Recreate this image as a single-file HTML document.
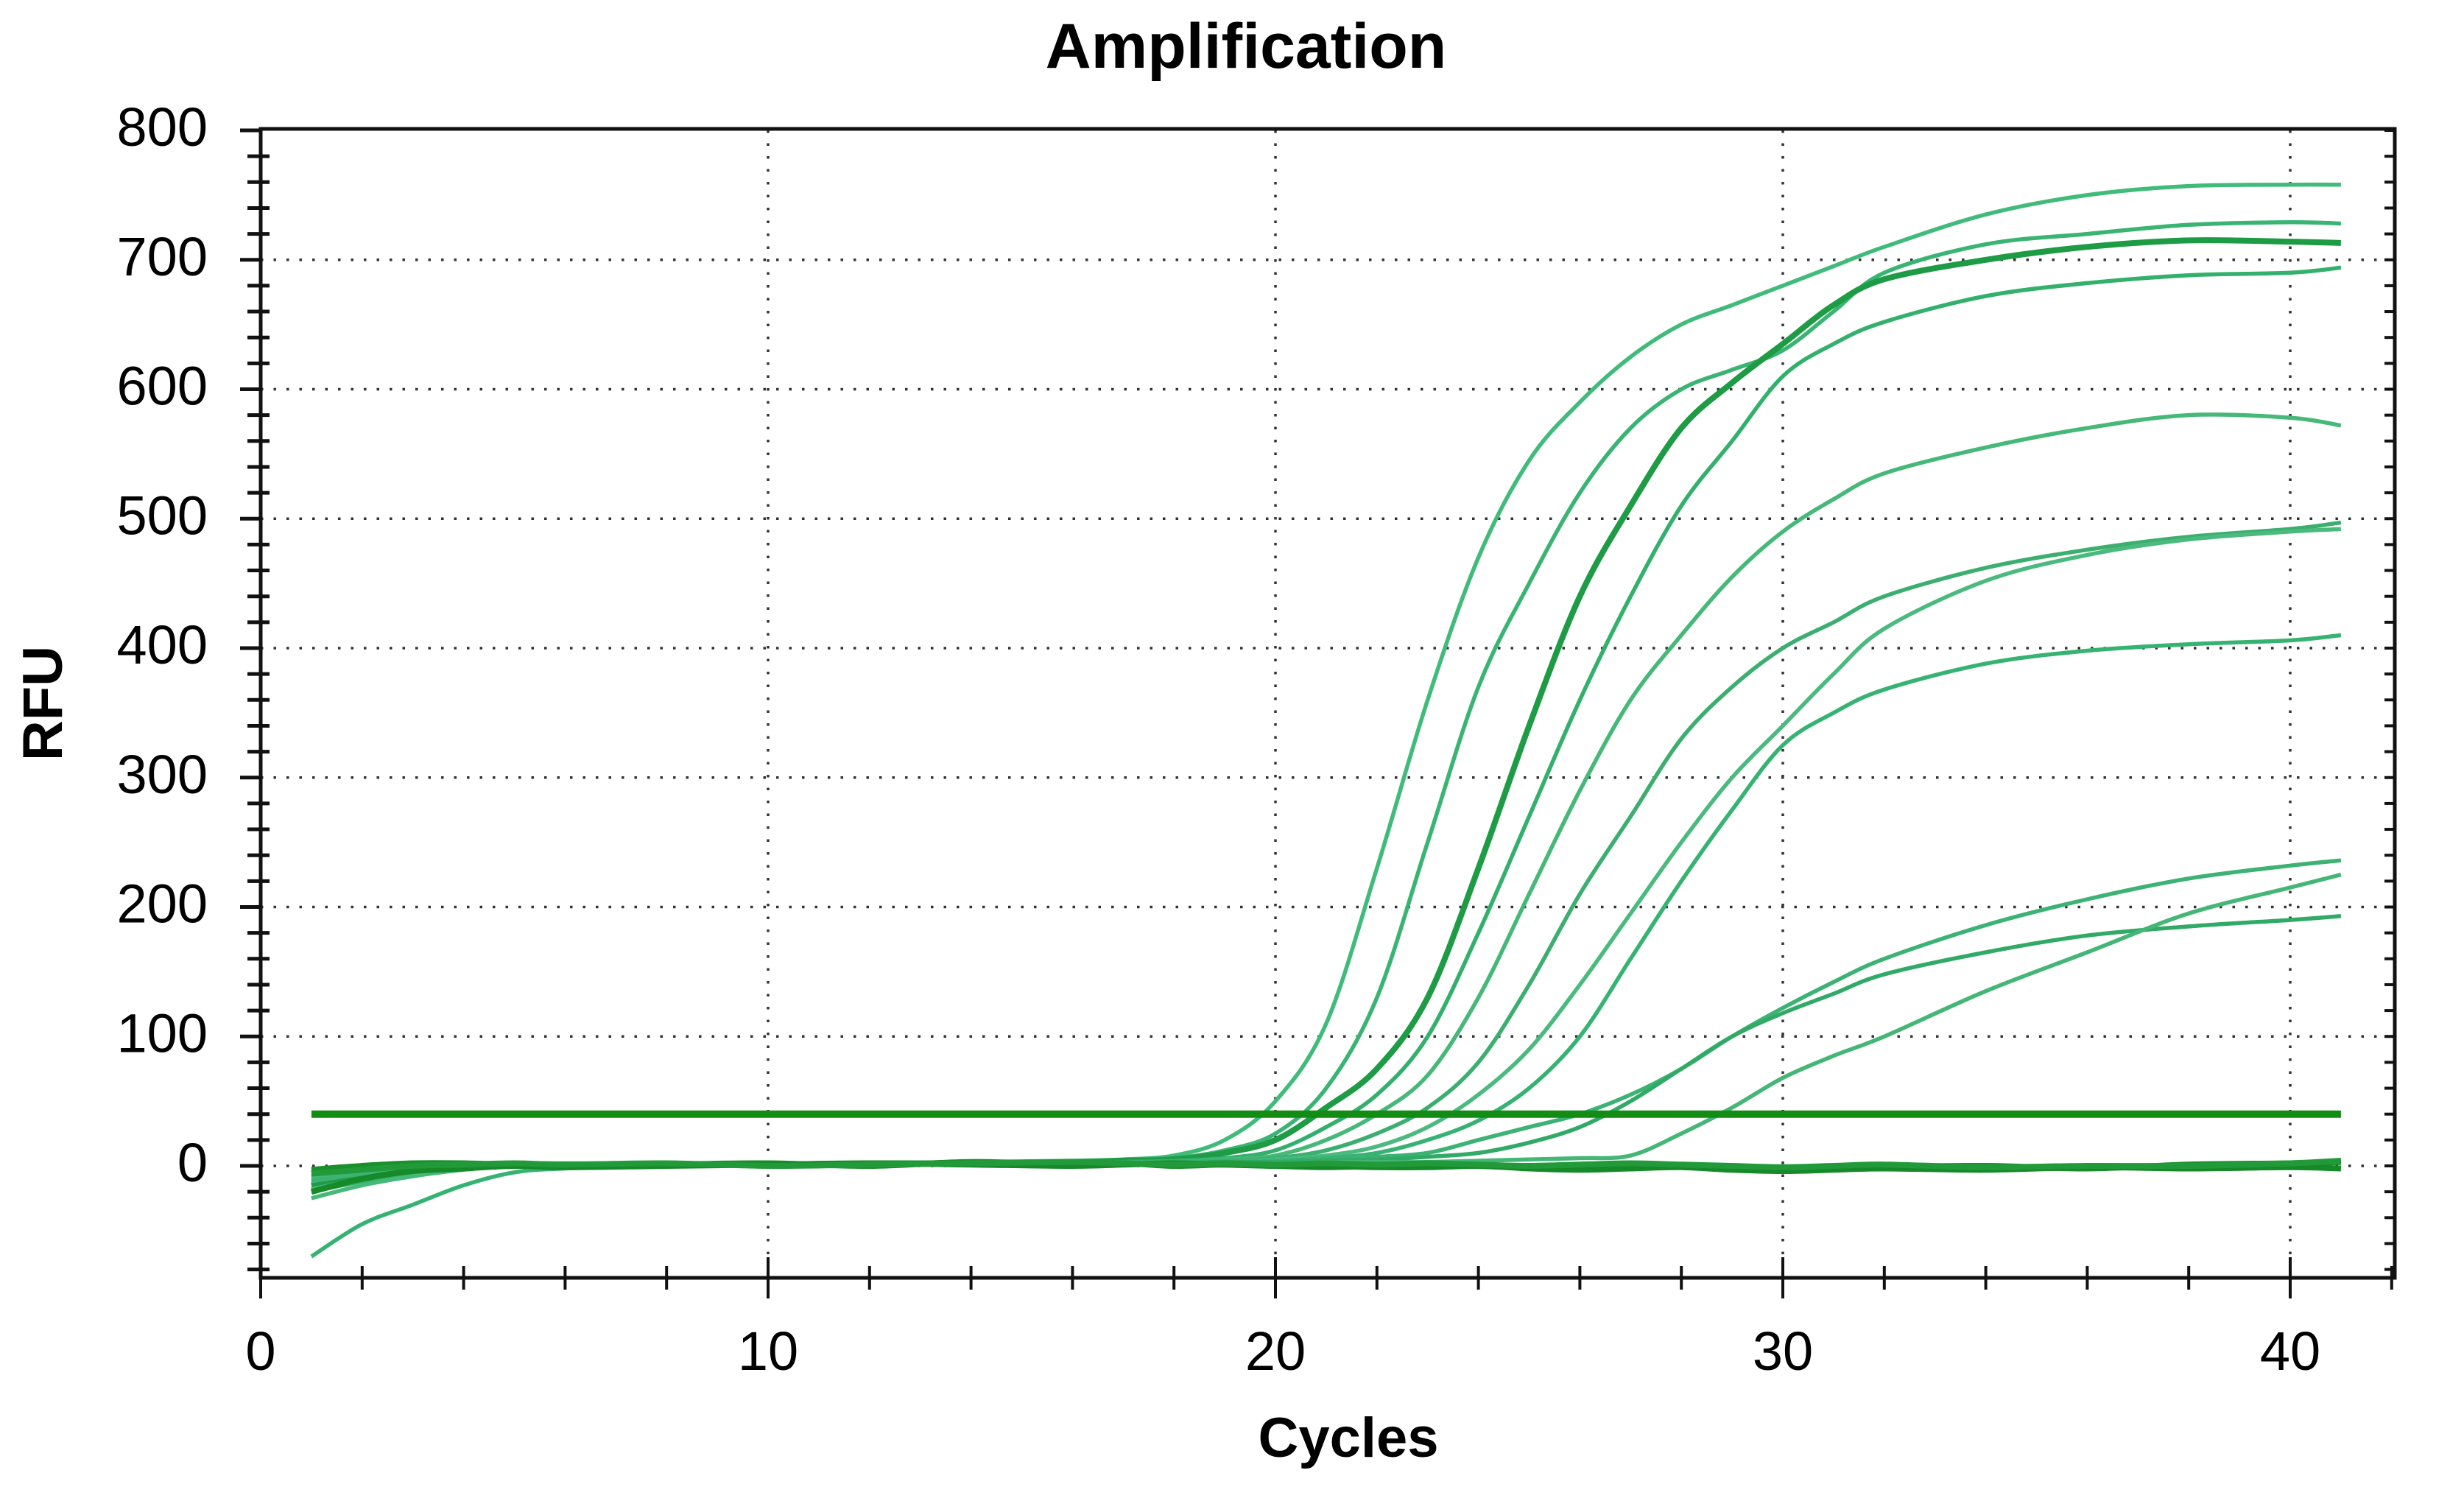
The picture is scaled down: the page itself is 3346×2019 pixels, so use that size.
<!DOCTYPE html>
<html><head><meta charset="utf-8">
<style>
html,body{margin:0;padding:0;background:#fff;}
svg{display:block;font-family:"Liberation Sans",Arial,sans-serif;}
</style></head>
<body>
<svg id="chart" width="3346" height="2019" viewBox="0 0 3346 2019">
<text x="1692" y="92" text-anchor="middle" font-size="86" font-weight="bold">Amplification</text>
<text x="1831" y="1978" text-anchor="middle" font-size="76" font-weight="bold">Cycles</text>
<text transform="translate(84,955) rotate(-90)" text-anchor="middle" font-size="76" font-weight="bold">RFU</text>
<g id="grid"></g>
<g id="series"></g>
<g id="axes"></g>
</svg>
<script>
const cycles=[1,2,3,4,5,6,8,10,12,14,16,17,18,19,20,21,22,23,24,25,26,27,28,29,30,31,32,34,36,38,40,41];
const xTicks=[0,10,20,30,40];
const yTicks=[0,100,200,300,400,500,600,700,800];
const threshold=40;
const sA=[-5,-2,0,1,2,2,2,2,2,3,4,5,8,20,50,110,230,360,470,545,590,625,650,665,680,695,710,735,750,757,758,758];
const sB=[-10,-5,-2,0,1,1,1,1,2,2,3,4,6,12,25,60,130,250,370,450,520,570,600,615,630,660,690,712,720,727,729,728];
const sC=[-15,-8,-3,0,1,1,1,1,2,2,3,4,5,10,20,45,75,130,230,340,440,510,570,605,635,665,685,700,710,715,714,713];
const sD=[-20,-12,-5,-1,0,1,1,1,2,2,3,3,4,6,12,30,55,100,180,270,360,440,510,560,610,635,652,672,682,688,690,694];
const sE=[-25,-15,-8,-3,0,1,1,1,1,2,2,3,3,5,8,20,40,70,130,210,290,360,410,455,490,515,535,555,570,580,578,572];
const sF=[-8,-4,-1,0,1,1,1,1,2,2,2,3,3,4,6,12,25,45,80,140,210,270,330,370,400,420,440,462,476,486,492,497];
const sG=[-18,-10,-4,-1,0,1,1,1,2,2,2,2,3,3,5,8,15,30,55,90,140,195,250,300,340,380,415,452,472,484,490,492];
const sH=[-70,-45,-30,-15,-5,-2,0,1,1,2,2,2,3,3,4,6,10,20,35,60,100,160,220,275,325,350,368,388,398,403,406,410];
const sI=[-12,-6,-2,0,1,1,1,1,2,2,2,2,3,3,4,5,7,10,20,30,40,55,75,100,122,142,160,186,206,222,232,236];
const sJ=[-5,-2,0,1,1,1,1,1,2,2,2,2,2,3,3,4,5,7,10,18,30,50,75,100,118,133,148,165,178,185,190,193];
const sK=[-8,-4,-1,0,1,1,1,1,1,2,2,2,2,2,2,3,3,3,4,5,6,8,25,45,68,85,100,135,165,195,215,225];
const sN1=[-3,0,2,2,1,0,1,2,0,3,1,2,0,1,0,-1,0,1,0,-1,0,1,0,-2,-3,-2,-1,0,-2,1,2,3];
const sN2=[-20,-10,-4,-2,0,-1,0,1,2,1,0,1,2,1,0,0,-1,-1,0,-2,-3,-2,-1,-3,-4,-3,-2,-3,-1,-2,-1,-2];
const sN3=[-6,-3,0,1,2,1,2,0,1,2,3,2,1,2,1,2,1,2,1,0,1,2,1,0,-1,0,1,-1,0,0,2,4];
const seriesList=[sA,sB,sC,sD,sE,sF,sG,sH,sI,sJ,sK,sN1,sN2,sN3];
const seriesNames=['a','b','c','d','e','f','g','h','i','j','k','n1','n2','n3'];
const colors=['#40bb7a','#3ab472','#1e9b45','#33b06c','#46b878','#3caf70','#4bba7e','#36b372','#3cb274','#30aa66','#44b676','#1a8f2a','#168a28','#239a3a'];
const widths=[5.5,5.5,8,5.5,5.5,5.5,5.5,5.5,5.5,5.5,5.5,8,8,8];

const X0=354,PX=68.9,Y0=1583,PY=1.7575;
const L=354,R=3252,T=177,B=1735;
function sx(c){return X0+c*PX;}
function sy(v){return Y0-v*PY;}
const NS='http://www.w3.org/2000/svg';
function mk(tag,attrs,parent){const e=document.createElementNS(NS,tag);for(const k in attrs)e.setAttribute(k,attrs[k]);parent.appendChild(e);return e;}
const grid=document.getElementById('grid'),axes=document.getElementById('axes'),ser=document.getElementById('series');

for(const t of yTicks){ if(t===800)continue;
 const g=mk('line',{x1:L,x2:R,y1:sy(t),y2:sy(t),stroke:'#333','stroke-width':3.5,'stroke-dasharray':'3.5 14'},grid);
 
 
}
for(const t of xTicks){ if(t===0)continue;
 const g=mk('line',{x1:sx(t),x2:sx(t),y1:T,y2:B,stroke:'#333','stroke-width':3.5,'stroke-dasharray':'3.5 14'},grid);
 
 
}

function pathD(vals){
 const p=cycles.map((c,i)=>[sx(c),sy(vals[i])]);
 let d='M'+p[0][0].toFixed(1)+','+p[0][1].toFixed(1);
 for(let i=0;i<p.length-1;i++){
  const p0=p[i-1]||p[i],p1=p[i],p2=p[i+1],p3=p[i+2]||p[i+1];
  const c1=[p1[0]+(p2[0]-p0[0])/6,p1[1]+(p2[1]-p0[1])/6];
  const c2=[p2[0]-(p3[0]-p1[0])/6,p2[1]-(p3[1]-p1[1])/6];
  d+=' C'+c1[0].toFixed(1)+','+c1[1].toFixed(1)+' '+c2[0].toFixed(1)+','+c2[1].toFixed(1)+' '+p2[0].toFixed(1)+','+p2[1].toFixed(1);
 }
 return d;
}
seriesList.forEach((vals,i)=>{
 const p=mk('path',{d:pathD(vals),fill:'none',stroke:colors[i],'stroke-width':widths[i],'stroke-linejoin':'round'},ser);
 
 
});
const th=mk('line',{x1:sx(cycles[0]),x2:sx(cycles[cycles.length-1]),y1:sy(threshold),y2:sy(threshold),stroke:'#128c12','stroke-width':10},ser);



const fr=mk('path',{d:`M${L},${T-2} H${R} V${B} H${L} Z`,fill:'none',stroke:'#111','stroke-width':5},axes);


for(let v=-80;v<=800;v+=20){
 const y=sy(v);const major=v%100===0;
 const t=mk('line',{x1:L-(major?28:18),x2:L+(major?0:12),y1:y,y2:y,stroke:'#111','stroke-width':5},axes);
 
 
 const t2=mk('line',{x1:R-14,x2:R,y1:y,y2:y,stroke:'#111','stroke-width':4},axes);
 
 
}
for(const v of yTicks){
 const lb=mk('text',{x:282,y:sy(v)+21,'text-anchor':'end','font-size':74},axes);
 lb.textContent=v;
 
 
}
for(let c=0;c<=42;c+=2){
 const x=sx(c);const major=c%10===0;
 const t=mk('line',{x1:x,x2:x,y1:B-(major?28:16),y2:B+(major?28:16),stroke:'#111','stroke-width':4},axes);
 
 
}
for(const c of xTicks){
 const lb=mk('text',{x:sx(c),y:1860,'text-anchor':'middle','font-size':74},axes);
 lb.textContent=c;
 
 
}
</script>
</body></html>
